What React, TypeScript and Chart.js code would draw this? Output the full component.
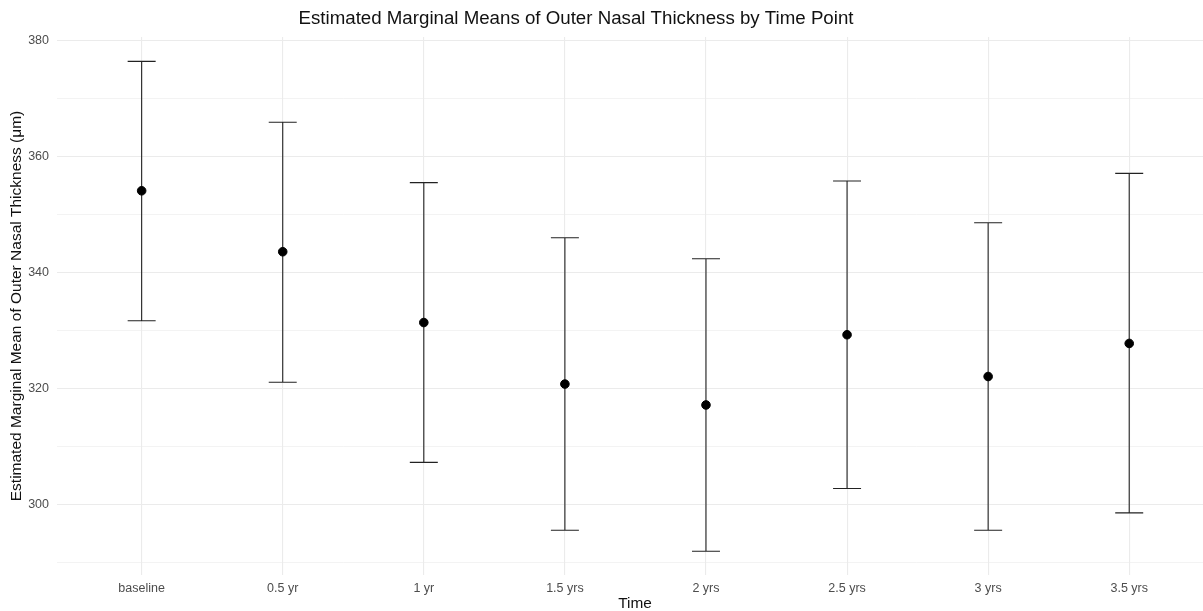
import React, { useEffect, useRef } from "react";
import { Chart, registerables } from "chart.js";

Chart.register(...registerables);

const categories = ["baseline", "0.5 yr", "1 yr", "1.5 yrs", "2 yrs", "2.5 yrs", "3 yrs", "3.5 yrs"];
const means = [354.1, 343.6, 331.4, 320.8, 317.2, 329.3, 322.1, 327.8];
const lowers = [331.7, 321.1, 307.3, 295.6, 292.0, 302.8, 295.6, 298.6];
const uppers = [376.4, 365.9, 355.5, 346.0, 342.4, 355.8, 348.6, 357.1];
const yTicks = [290, 300, 310, 320, 330, 340, 350, 360, 370, 380];

const TITLE = "Estimated Marginal Means of Outer Nasal Thickness by Time Point";
const X_TITLE = "Time";
const Y_TITLE = "Estimated Marginal Mean of Outer Nasal Thickness (\u03bcm)";
const FONT = "'Liberation Sans', Arial, Helvetica, sans-serif";

const errorBarPlugin = {
  id: "errorBars",
  beforeDatasetsDraw(chart: any) {
    const { ctx, scales } = chart;
    const xs = scales.x;
    const ys = scales.y;
    ctx.save();
    ctx.strokeStyle = "#222222";
    ctx.lineWidth = 1.1;
    categories.forEach((_, i) => {
      const px = xs.getPixelForValue(i);
      const pl = ys.getPixelForValue(lowers[i]);
      const pu = ys.getPixelForValue(uppers[i]);
      ctx.beginPath();
      ctx.moveTo(px, pl);
      ctx.lineTo(px, pu);
      ctx.moveTo(px - 14, pl);
      ctx.lineTo(px + 14, pl);
      ctx.moveTo(px - 14, pu);
      ctx.lineTo(px + 14, pu);
      ctx.stroke();
    });
    ctx.restore();
  },
};

const titlesPlugin = {
  id: "titles",
  afterDraw(chart: any) {
    const { ctx, chartArea } = chart;
    ctx.save();
    ctx.fillStyle = "#111111";
    ctx.textAlign = "center";
    ctx.textBaseline = "middle";
    ctx.font = `18.7px ${FONT}`;
    ctx.fillText(TITLE, 576, 19);
    ctx.font = `15.4px ${FONT}`;
    ctx.fillText(X_TITLE, 635, 604);
    ctx.translate(17, (chartArea.top + chartArea.bottom) / 2);
    ctx.rotate(-Math.PI / 2);
    ctx.font = `15.5px ${FONT}`;
    ctx.fillText(Y_TITLE, 0, 0);
    ctx.restore();
  },
};

export default function App() {
  const ref = useRef<HTMLCanvasElement | null>(null);
  useEffect(() => {
    document.body.style.margin = "0";
    const canvas = ref.current!;
    const chart = new Chart(canvas, {
      type: "scatter",
      data: {
        datasets: [
          {
            data: means.map((m, i) => ({ x: i, y: m })),
            backgroundColor: "#000000",
            borderColor: "#000000",
            pointRadius: 4.3,
            pointHoverRadius: 4.3,
          },
        ],
      },
      options: {
        animation: false,
        responsive: false,
        layout: { autoPadding: false, padding: { top: 37, left: 0, right: 0, bottom: 0 } },
        plugins: { legend: { display: false }, tooltip: { enabled: false }, title: { display: false } },
        scales: {
          x: {
            type: "linear",
            min: -0.6,
            max: 7.523,
            border: { display: false },
            afterBuildTicks: (s: any) => {
              s.ticks = categories.map((_, i) => ({ value: i }));
            },
            afterFit: (s: any) => {
              s.height = 36;
              s.paddingLeft = 0;
              s.paddingRight = 0;
            },
            grid: { color: "#ebebeb", lineWidth: 1.1, drawTicks: false },
            ticks: {
              padding: 6,
              color: "#4d4d4d",
              font: { family: FONT, size: 12.5 },
              maxRotation: 0,
              autoSkip: false,
              callback: (v: any) => categories[Math.round(Number(v))] ?? "",
            },
          },
          y: {
            type: "linear",
            min: 287.9,
            max: 380.6,
            border: { display: false },
            afterBuildTicks: (s: any) => {
              s.ticks = yTicks.map((v) => ({ value: v }));
            },
            afterFit: (s: any) => {
              s.width = 57;
              s.paddingTop = 0;
              s.paddingBottom = 0;
            },
            grid: {
              color: "#ebebeb",
              drawTicks: false,
              lineWidth: (c: any) => (c.tick && c.tick.value % 20 === 0 ? 1.1 : 0.6),
            },
            ticks: {
              padding: 8,
              color: "#4d4d4d",
              font: { family: FONT, size: 12.5 },
              autoSkip: false,
              callback: (v: any) => (Number(v) % 20 === 0 ? String(v) : ""),
            },
          },
        },
      },
      plugins: [errorBarPlugin, titlesPlugin],
    } as any);
    return () => chart.destroy();
  }, []);
  return <canvas ref={ref} width={1203} height={611} style={{ display: "block" }} />;
}
